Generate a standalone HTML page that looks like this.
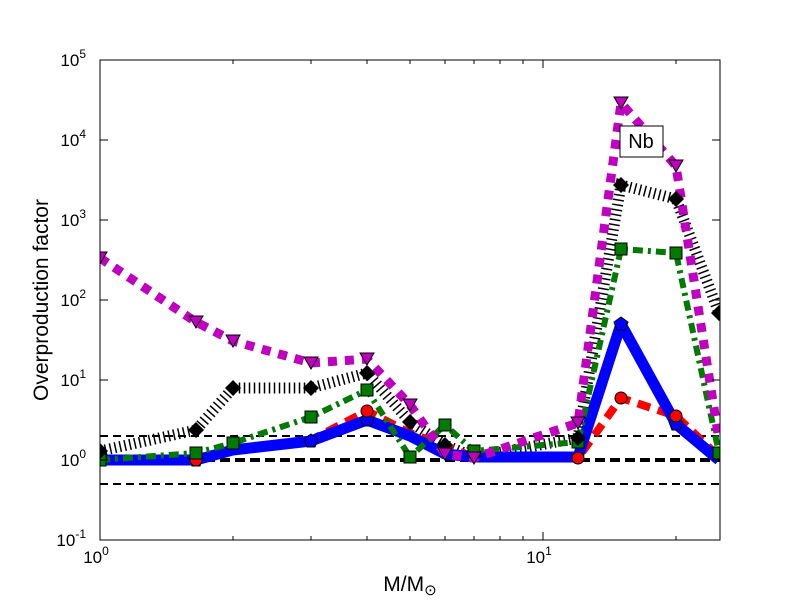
<!DOCTYPE html>
<html><head><style>body{margin:0;background:#fff}svg{display:block}text{font-family:"Liberation Sans",sans-serif}</style></head><body>
<svg width="800" height="600" xmlns="http://www.w3.org/2000/svg">
<rect width="800" height="600" fill="#fff"/>
<defs><clipPath id="c"><rect x="100" y="60" width="620" height="480"/></clipPath></defs>
<g clip-path="url(#c)">
<line x1="100" y1="436" x2="720" y2="436" stroke="#000" stroke-width="2" stroke-dasharray="8,5"/>
<line x1="100" y1="460" x2="720" y2="460" stroke="#000" stroke-width="4" stroke-dasharray="10,5"/>
<line x1="100" y1="484" x2="720" y2="484" stroke="#000" stroke-width="2" stroke-dasharray="8,5"/>
<!-- black -->
<polyline fill="none" stroke="#000" stroke-width="11" stroke-dasharray="1.5,3.5" points="100,451 196,430 233,388 311,388 367,373 410,422 445,445 474,457 578,438 621,185 676,199 719,313"/>
<!-- red -->
<polyline fill="none" stroke="#ff0000" stroke-width="8" stroke-dasharray="13,8" points="100,460 196,460 233,451 311,440 367,411 410,433 445,446 474,457 578,458 621,398 676,416 719,457"/>
<!-- blue -->
<polyline fill="none" stroke="#0000ff" stroke-width="11" stroke-linejoin="round" points="100,460 196,460 233,450 311,441 367,420 410,436 445,454 474,457 578,457 621,324 676,424 719,460"/>
<!-- green -->
<polyline fill="none" stroke="#007a00" stroke-width="6" stroke-dasharray="10,5,3,5" points="100,460 196,453 233,443 311,417 367,390 410,457 445,425 474,451 578,442 621,249 676,253 719,453"/>
<!-- magenta -->
<polyline fill="none" stroke="#bf00bf" stroke-width="9" stroke-dasharray="9,8" points="100,258 196,322 233,341 311,363 367,359 410,405 445,454 474,458 578,423 621,103 676,166 719,440"/>
<!-- markers -->
<g fill="#0000ff" stroke="#000" stroke-width="1">
<path d="M100,453l7,5-3,8h-8l-3-8z M196,453l7,5-3,8h-8l-3-8z M311,434l7,5-3,8h-8l-3-8z M367,413l7,5-3,8h-8l-3-8z M621,317l7,5-3,8h-8l-3-8z M676,417l7,5-3,8h-8l-3-8z"/>
</g>
<g fill="#ff0000" stroke="#000" stroke-width="1">
<circle cx="196" cy="460" r="6"/><circle cx="367" cy="411" r="6"/><circle cx="578" cy="458" r="6"/><circle cx="621" cy="398" r="6"/><circle cx="676" cy="416" r="6"/>
</g>
<g fill="#007a00" stroke="#000" stroke-width="1">
<rect x="94" y="454" width="12" height="12"/><rect x="190" y="447" width="12" height="12"/><rect x="227" y="437" width="12" height="12"/><rect x="305" y="411" width="12" height="12"/><rect x="361" y="384" width="12" height="12"/><rect x="404" y="451" width="12" height="12"/><rect x="439" y="419" width="12" height="12"/><rect x="468" y="445" width="12" height="12"/><rect x="572" y="436" width="12" height="12"/><rect x="615" y="243" width="12" height="12"/><rect x="670" y="247" width="12" height="12"/><rect x="713" y="447" width="12" height="12"/>
</g>
<g fill="#000">
<path d="M100,443l8,8-8,8-8-8z M196,422l8,8-8,8-8-8z M233,380l8,8-8,8-8-8z M311,380l8,8-8,8-8-8z M367,365l8,8-8,8-8-8z M410,414l8,8-8,8-8-8z M445,437l8,8-8,8-8-8z M578,430l8,8-8,8-8-8z M621,177l8,8-8,8-8-8z M676,191l8,8-8,8-8-8z M719,305l8,8-8,8-8-8z"/>
</g>
<g fill="#bf00bf" stroke="#000" stroke-width="1">
<path d="M100,264l-7-12h14z M196,328l-7-12h14z M233,347l-7-12h14z M311,369l-7-12h14z M367,365l-7-12h14z M410,411l-7-12h14z M445,460l-7-12h14z M474,464l-7-12h14z M578,429l-7-12h14z M621,109l-7-12h14z M676,172l-7-12h14z"/>
</g>
</g>
<rect x="100" y="60" width="620" height="480" fill="none" stroke="#000" stroke-width="1"/>
<g stroke="#000" stroke-width="1">
<path d="M100,60v8 M100,540v-8 M543,60v8 M543,540v-8
M233,540v-4 M311,540v-4 M367,540v-4 M410,540v-4 M445,540v-4 M474,540v-4 M500,540v-4 M523,540v-4 M676,540v-4
M233,60v4 M311,60v4 M367,60v4 M410,60v4 M445,60v4 M474,60v4 M500,60v4 M523,60v4 M676,60v4
M100,140h8 M100,220h8 M100,300h8 M100,380h8 M100,460h8 M720,140h-8 M720,220h-8 M720,300h-8 M720,380h-8 M720,460h-8"/>
</g>
<g font-size="17" text-anchor="end" fill="#000">
<text x="86" y="546">10<tspan dy="-8" font-size="12">-1</tspan></text>
<text x="86" y="466">10<tspan dy="-8" font-size="12">0</tspan></text>
<text x="86" y="386">10<tspan dy="-8" font-size="12">1</tspan></text>
<text x="86" y="306">10<tspan dy="-8" font-size="12">2</tspan></text>
<text x="86" y="226">10<tspan dy="-8" font-size="12">3</tspan></text>
<text x="86" y="146">10<tspan dy="-8" font-size="12">4</tspan></text>
<text x="86" y="66">10<tspan dy="-8" font-size="12">5</tspan></text>
</g>
<g font-size="17" text-anchor="middle">
<text x="96" y="563">10<tspan dy="-8" font-size="12">0</tspan></text>
<text x="539" y="563">10<tspan dy="-8" font-size="12">1</tspan></text>
</g>
<text x="410" y="591" font-size="21" text-anchor="middle">M/M<tspan dy="4" font-size="15">⊙</tspan></text>
<text transform="translate(48,300) rotate(-90)" font-size="21" text-anchor="middle">Overproduction factor</text>
<rect x="620" y="126" width="43" height="31" fill="#fff" stroke="#000"/>
<text x="641" y="148" font-size="20" text-anchor="middle">Nb</text>
</svg>
</body></html>
